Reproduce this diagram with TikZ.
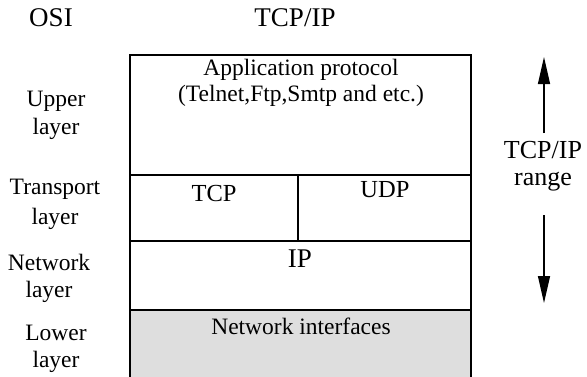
\documentclass[tikz,border=0pt]{standalone}
\usepackage{fontspec}
\setmainfont{Liberation Serif}
\usetikzlibrary{arrows.meta}
\begin{document}
\begin{tikzpicture}[x=1pt,y=-1pt,
  layerbox/.style={draw=black,line width=1.3pt},
  lbl/.style={font=\fontsize{23.5}{27}\selectfont,align=center,inner sep=0pt},
  big/.style={font=\fontsize{26}{30}\selectfont,inner sep=0pt},
  rangearrow/.style={-{Triangle[length=27pt,width=12pt]},line width=1.3pt}]
\useasboundingbox (0,0) rectangle (587,376);
% protocol stack
\draw[layerbox] (130,55) rectangle (471,175);
\draw[layerbox] (130,175) rectangle (298,241);
\draw[layerbox] (298,175) rectangle (471,241);
\draw[layerbox] (130,241) rectangle (471,310);
\filldraw[layerbox,fill=black!13] (130,310) rectangle (471,380);
% column headings
\node[big,font=\fontsize{27}{30}\selectfont] (osi) at (51,18) {OSI};
\node[big,font=\fontsize{27}{30}\selectfont] (tcpip) at (295,18) {TCP/IP};
% OSI layer names
\node[lbl] (upper) at (56,101) {Upper};
\node[lbl] (upper2) at (56,129) {layer};
\node[lbl] (trans) at (55,189) {Transport};
\node[lbl] (trans2) at (55,219) {layer};
\node[lbl] (net) at (49,262) {Network};
\node[lbl] (net2) at (49,292) {layer};
\node[lbl] (low) at (56,333) {Lower};
\node[lbl] (low2) at (56,362) {layer};
% protocol names
\node[lbl] (app) at (301,70) {Application protocol};
\node[lbl] (app2) at (301,96) {(Telnet,Ftp,Smtp and etc.)};
\node[big,font=\fontsize{24.5}{28}\selectfont] (tcp) at (214,194) {TCP};
\node[big,font=\fontsize{24.5}{28}\selectfont] (udp) at (385,190) {UDP};
\node[big,font=\fontsize{27}{30}\selectfont] (ip) at (300,259) {IP};
\node[lbl] (nif) at (301,326) {Network interfaces};
% range marker
\node[big] (range1) at (543,150) {TCP/IP};
\node[big] (range2) at (543,182) {range};
\coordinate (topend) at (544,57);
\coordinate (botend) at (544,303);
\draw[rangearrow] (544,133) -- (topend);
\draw[rangearrow] (544,215) -- (botend);
\end{tikzpicture}
\end{document}
